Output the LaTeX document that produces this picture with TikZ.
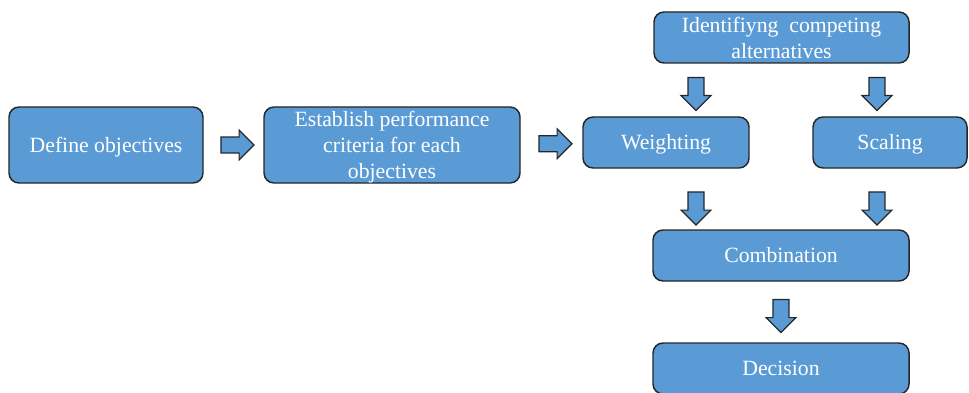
\documentclass[tikz,border=0pt]{standalone}
\usepackage{fontspec}
\setmainfont{Liberation Serif}
\usetikzlibrary{shapes.arrows,calc}
\definecolor{boxblue}{RGB}{91,155,213}
\begin{document}
\begin{tikzpicture}[x=0.75pt,y=-0.75pt,
    box/.style={draw=black!85,fill=boxblue,line width=1.1pt,
      rounded corners=7.5pt,text=white,align=center,inner sep=0pt,
      minimum height=38.25pt,text height=14.1pt,text depth=3.6pt,
      font=\fontsize{16.3}{19.5}\selectfont},
    blk/.style={single arrow,draw=black!85,fill=boxblue,line width=0.9pt,
      inner sep=5.5pt,single arrow head extend=5.2pt,
      minimum height=24.75pt},
    rarr/.style={blk},
    darr/.style={blk,shape border rotate=270}]
  \useasboundingbox (0,0) rectangle (969,392);
  % left chain
  \node[box,minimum width=145.5pt,minimum height=57pt] (def) at (106,145)
    {Define objectives};
  \node[box,minimum width=192pt,minimum height=57pt,text height=53.2pt]
    (crit) at (392,145) {Establish performance\\criteria for each\\objectives};
  % right block
  \node[box,minimum width=191.25pt,text height=34.4pt] (alt) at (781.5,37.5)
    {Identifiyng~~competing\\alternatives};
  \node[box,minimum width=124.5pt] (wgt) at (666,142.5) {Weighting};
  \node[box,minimum width=115.5pt] (scl) at (890,142.5) {Scaling};
  \node[box,minimum width=192pt] (comb) at (781,255.5) {Combination};
  \node[box,minimum width=192pt] (dec) at (781,368.5) {Decision};
  % block arrows
  \node[rarr] (r1) at ($(def.east)!.5!(crit.west)$) {};
  \node[rarr] (r2) at ($(crit.east)!.5!(wgt.west)$) {};
  \coordinate (m1) at ($(alt.south)!.5!(wgt.north)$);
  \node[darr] (d1) at ($(m1 -| alt.south)+(-85.5,0)$) {};
  \node[darr] (d2) at ($(m1 -| alt.south)+(95.5,0)$) {};
  \coordinate (m2) at ($(wgt.south)!.5!(comb.north)+(0,5.5)$);
  \foreach \a/\b in {d1/d3, d2/d4}{
    \node[darr] (\b) at (\a |- m2) {};
  }
  \node[darr] (d5) at ($(comb.south)!.5!(dec.north)$) {};
\end{tikzpicture}
\end{document}
